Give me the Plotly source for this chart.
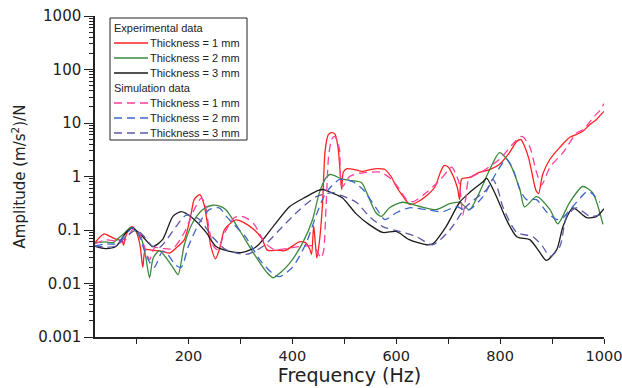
import plotly.graph_objects as go

# ---------------- data ----------------
f_exp1 = [19, 30, 38, 50, 63, 72, 75, 78, 86, 92, 100, 107, 112, 117, 130, 150, 163, 175, 192, 205, 211, 222, 230, 236, 243, 252, 260, 269, 283, 292, 305, 327, 341, 352, 370, 385, 400, 413, 425, 433, 437, 441, 444, 447, 452, 458, 463, 469, 475, 482, 488, 492, 495, 498, 505, 520, 535, 550, 565, 578, 590, 600, 612, 626, 640, 660, 675, 685, 692, 700, 710, 718, 722, 726, 741, 760, 780, 799, 818, 832, 840, 848, 855, 861, 869, 874, 882, 896, 915, 934, 950, 959, 973, 985, 993, 1000]
a_exp1 = [0.056, 0.075, 0.085, 0.075, 0.066, 0.064, 0.052, 0.07, 0.105, 0.115, 0.09, 0.05, 0.02, 0.043, 0.042, 0.04, 0.037, 0.045, 0.066, 0.2, 0.37, 0.46, 0.3, 0.14, 0.05, 0.029, 0.045, 0.1, 0.14, 0.155, 0.14, 0.1, 0.07, 0.042, 0.042, 0.041, 0.05, 0.06, 0.058, 0.045, 0.035, 0.12, 0.06, 0.03, 0.06, 0.3, 3.0, 6.0, 6.6, 6.2, 3.5, 1.2, 0.57, 1.2, 1.4, 1.35, 1.25, 1.35, 1.4, 1.35, 1.0, 0.65, 0.44, 0.3, 0.33, 0.45, 0.65, 1.2, 1.6, 1.5, 1.0, 0.6, 0.37, 0.9, 0.96, 1.19, 1.35, 1.7, 2.8, 4.5, 4.9, 3.5, 2.2, 1.2, 0.55, 0.48, 1.1, 2.1, 3.5, 5.4, 6.3, 7.0, 9.4, 11.5, 14.0, 16.5]

f_exp2 = [19, 40, 55, 65, 78, 87, 95, 110, 118, 125, 132, 144, 155, 170, 180, 192, 208, 227, 246, 260, 272, 298, 323, 350, 363, 380, 395, 420, 439, 452, 465, 472, 480, 495, 510, 533, 543, 561, 572, 587, 612, 645, 677, 703, 722, 741, 760, 780, 799, 818, 838, 847, 870, 896, 911, 934, 959, 978, 998]
a_exp2 = [0.058, 0.06, 0.058, 0.07, 0.09, 0.11, 0.105, 0.066, 0.03, 0.0128, 0.03, 0.041, 0.032, 0.02, 0.0146, 0.053, 0.137, 0.24, 0.29, 0.28, 0.24, 0.1, 0.04, 0.0165, 0.0128, 0.017, 0.024, 0.058, 0.157, 0.5, 0.95, 1.09, 1.05, 0.9, 0.85, 0.77, 0.5, 0.21, 0.18, 0.26, 0.33, 0.275, 0.24, 0.31, 0.33, 0.24, 0.5, 1.35, 2.8, 1.8, 0.57, 0.27, 0.42, 0.24, 0.13, 0.33, 0.65, 0.5, 0.127]

f_exp3 = [19, 40, 60, 80, 92, 112, 131, 150, 170, 186, 207, 234, 253, 279, 304, 331, 363, 395, 427, 450, 460, 475, 496, 523, 548, 574, 600, 625, 658, 670, 696, 722, 741, 767, 774, 793, 812, 832, 857, 875, 889, 909, 921, 940, 967, 986, 1000]
a_exp3 = [0.05, 0.045, 0.049, 0.09, 0.11, 0.075, 0.049, 0.066, 0.18, 0.22, 0.17, 0.09, 0.049, 0.04, 0.038, 0.049, 0.116, 0.275, 0.42, 0.55, 0.57, 0.5, 0.4, 0.2, 0.126, 0.09, 0.094, 0.066, 0.053, 0.055, 0.116, 0.33, 0.5, 0.8, 0.92, 0.42, 0.157, 0.075, 0.066, 0.04, 0.027, 0.043, 0.116, 0.26, 0.17, 0.18, 0.25]

f_sim1 = [19, 40, 60, 75, 85, 95, 105, 115, 125, 135, 150, 170, 192, 211, 225, 232, 240, 248, 256, 270, 288, 302, 315, 327, 347, 365, 390, 420, 440, 448, 455, 460, 465, 470, 476, 481, 487, 491, 494, 497, 510, 530, 550, 570, 590, 605, 620, 633, 660, 685, 700, 707, 715, 722, 728, 734, 740, 763, 799, 824, 842, 857, 870, 880, 896, 921, 948, 960, 980, 992, 1000]
a_sim1 = [0.055, 0.065, 0.062, 0.06, 0.08, 0.106, 0.09, 0.05, 0.028, 0.047, 0.045, 0.045, 0.09, 0.24, 0.4, 0.3, 0.1, 0.05, 0.043, 0.09, 0.17, 0.18, 0.16, 0.126, 0.058, 0.043, 0.045, 0.05, 0.05, 0.04, 0.03, 0.04, 0.3, 2.5, 5.0, 5.6, 4.5, 3.0, 0.7, 0.65, 1.0, 1.15, 1.2, 1.2, 0.9, 0.6, 0.37, 0.34, 0.52, 0.88, 1.3, 1.5, 1.1, 0.7, 0.19, 0.4, 0.9, 1.2, 2.1, 4.0, 5.6, 3.6, 1.2, 0.7, 1.5, 2.8, 6.6, 7.5, 13.0, 17.0, 23.0]

f_sim2 = [19, 40, 60, 80, 92, 100, 112, 125, 134, 150, 160, 175, 186, 200, 221, 240, 259, 275, 311, 337, 360, 375, 400, 427, 446, 465, 491, 516, 536, 561, 578, 600, 625, 658, 690, 716, 730, 741, 767, 793, 812, 825, 838, 851, 870, 889, 909, 921, 940, 967, 975, 992]
a_sim2 = [0.05, 0.055, 0.055, 0.085, 0.11, 0.1, 0.05, 0.025, 0.02, 0.04, 0.035, 0.022, 0.02, 0.05, 0.137, 0.24, 0.26, 0.17, 0.072, 0.028, 0.016, 0.0134, 0.02, 0.058, 0.19, 0.5, 0.88, 0.8, 0.57, 0.26, 0.157, 0.21, 0.26, 0.24, 0.22, 0.275, 0.24, 0.24, 0.42, 1.19, 2.1, 1.35, 0.57, 0.37, 0.37, 0.22, 0.157, 0.17, 0.275, 0.52, 0.5, 0.33]

f_sim3 = [19, 40, 60, 80, 100, 115, 130, 144, 160, 176, 196, 221, 246, 272, 311, 343, 381, 414, 446, 478, 500, 523, 548, 574, 606, 639, 670, 703, 735, 774, 786, 795, 805, 832, 863, 882, 896, 915, 928, 947, 973, 992]
a_sim3 = [0.05, 0.048, 0.05, 0.075, 0.1, 0.075, 0.05, 0.047, 0.07, 0.116, 0.19, 0.157, 0.075, 0.043, 0.035, 0.049, 0.116, 0.24, 0.42, 0.5, 0.42, 0.33, 0.18, 0.116, 0.094, 0.075, 0.053, 0.1, 0.275, 0.57, 0.88, 0.6, 0.275, 0.09, 0.075, 0.049, 0.032, 0.049, 0.18, 0.26, 0.18, 0.19]

series_names = ["Thickness = 1 mm", "Thickness = 2 mm", "Thickness = 3 mm"]
group_titles = ["Experimental data", "Simulation data"]
y_tickvals = [0.001, 0.01, 0.1, 1, 10, 100, 1000]
y_ticktext = ["0.001", "0.01", "0.1", "1", "10", "100", "1000"]
x_tickvals = [200, 400, 600, 800, 1000]
x_minorvals = [100, 300, 500, 700, 900]

# ---------------- figure ----------------
W, H = 622, 388
ML, MT = 95, 16
MR = W - 604
MB = H - 337
PW, PH = W - ML - MR, H - MT - MB

def px_x(p):
    return (p - ML) / PW

def px_y(p):
    return (H - MB - p) / PH

fig = go.Figure()

exp_cols = ["#ff2020", "#3a8a3a", "#1a1a1a"]
sim_cols = ["#ff3d9a", "#3d66cc", "#5a5aaa"]
DASH = "8px,5px"
exp_sets = [(f_exp1, a_exp1), (f_exp2, a_exp2), (f_exp3, a_exp3)]
sim_sets = [(f_sim1, a_sim1), (f_sim2, a_sim2), (f_sim3, a_sim3)]

for i, (fx, ay) in enumerate(exp_sets):
    fig.add_trace(go.Scatter(
        x=fx, y=ay, mode="lines", name=series_names[i] + " (" + group_titles[0] + ")",
        line=dict(color=exp_cols[i], width=1.3, shape="spline", smoothing=0.7),
        showlegend=False,
    ))
for i, (fx, ay) in enumerate(sim_sets):
    fig.add_trace(go.Scatter(
        x=fx, y=ay, mode="lines", name=series_names[i] + " (" + group_titles[1] + ")",
        line=dict(color=sim_cols[i], width=1.3, shape="spline", smoothing=0.7, dash=DASH),
        showlegend=False,
    ))

# ---- legend box drawn in paper coordinates ----
shapes = [dict(type="rect", xref="paper", yref="paper",
               x0=px_x(110), x1=px_x(247), y0=px_y(140), y1=px_y(18),
               line=dict(color="#222222", width=1), fillcolor="white", layer="above")]
annotations = []
LFONT = dict(family="Liberation Sans, Arial", size=11, color="#222222")
rows = [28, 43, 58, 73, 88, 103, 118, 133]
entries = [("title", group_titles[0], None, None)]
entries += [("item", series_names[i], exp_cols[i], "solid") for i in range(3)]
entries += [("title", group_titles[1], None, None)]
entries += [("item", series_names[i], sim_cols[i], DASH) for i in range(3)]
for (kind, txt, col, dash), ry in zip(entries, rows):
    if kind == "title":
        annotations.append(dict(xref="paper", yref="paper", x=px_x(112), y=px_y(ry),
                                xanchor="left", yanchor="middle", text=txt,
                                showarrow=False, font=LFONT))
    else:
        shapes.append(dict(type="line", xref="paper", yref="paper",
                           x0=px_x(114), x1=px_x(148), y0=px_y(ry), y1=px_y(ry),
                           line=dict(color=col, width=1.3, dash=dash), layer="above"))
        annotations.append(dict(xref="paper", yref="paper", x=px_x(148), y=px_y(ry),
                                xanchor="left", yanchor="middle", text=txt,
                                showarrow=False, font=LFONT))

minor_y = []
for dec in [0.001, 0.01, 0.1, 1, 10, 100]:
    for k in range(2, 10):
        minor_y.append(dec * k)

fig.update_layout(
    width=W, height=H,
    margin=dict(l=ML, r=MR, t=MT, b=MB),
    paper_bgcolor="white", plot_bgcolor="white",
    font=dict(family="DejaVu Sans", color="#222222"),
    showlegend=False,
    shapes=shapes,
    annotations=annotations,
    xaxis=dict(
        range=[20, 1000], showgrid=False, zeroline=False, automargin=False,
        showline=True, linecolor="#222222", linewidth=1.5,
        ticks="outside", ticklen=5, tickwidth=1, tickcolor="#222222",
        tickmode="array", tickvals=x_tickvals, ticklabeloverflow="allow",
        tickfont=dict(size=14.5, family="DejaVu Sans"),
        minor=dict(ticks="outside", ticklen=5, tickwidth=1, tickcolor="#222222",
                   tickmode="array", tickvals=x_minorvals, showgrid=False),
        title=dict(text="Frequency (Hz)", font=dict(size=19, family="DejaVu Sans"), standoff=6),
    ),
    yaxis=dict(
        type="log", range=[-3, 3], showgrid=False, zeroline=False, automargin=False,
        showline=True, linecolor="#222222", linewidth=1.5,
        ticks="outside", ticklen=9, tickwidth=1, tickcolor="#222222",
        tickmode="array", tickvals=y_tickvals, ticktext=y_ticktext, ticklabeloverflow="allow",
        tickfont=dict(size=15, family="DejaVu Sans"),
        minor=dict(ticks="outside", ticklen=4, tickwidth=1, tickcolor="#222222",
                   tickmode="array", tickvals=minor_y, showgrid=False),
        title=dict(text="Amplitude (m/s<sup>2</sup>)/N", font=dict(size=15, family="DejaVu Sans"), standoff=9),
    ),
)

# remove the browser's default page margin so the 622x388 figure fills the window exactly
fig.write_html("out.html",
               config={"displayModeBar": False},
               post_script="document.body.style.margin='0';document.body.style.overflow='hidden';")
